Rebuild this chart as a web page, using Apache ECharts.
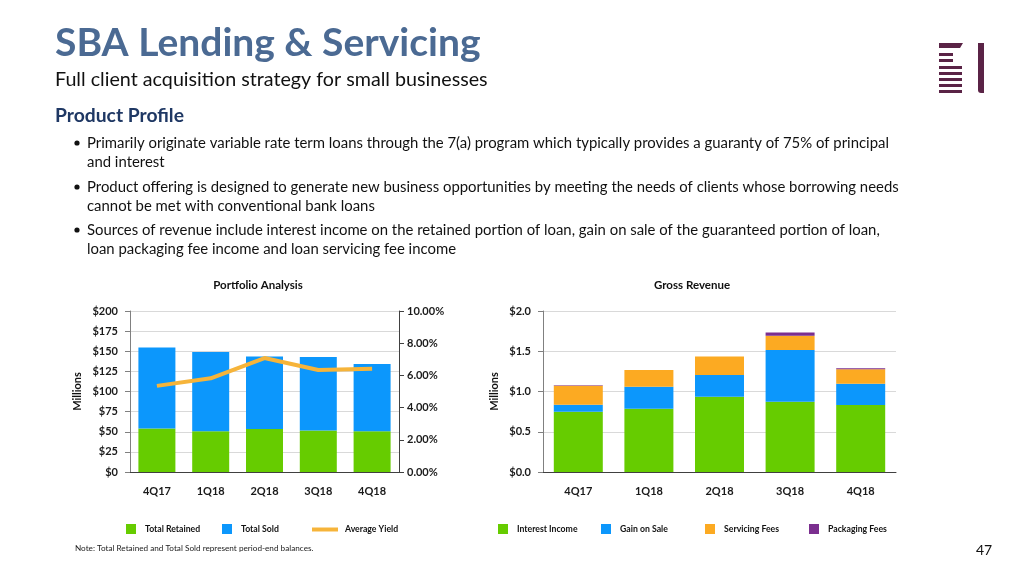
<!DOCTYPE html>
<html>
<head>
<meta charset="utf-8">
<script src="https://cdn.jsdelivr.net/npm/echarts@6/dist/echarts.min.js"></script>
<style>
html,body{margin:0;padding:0;background:#fff;}
#c{width:1024px;height:576px;}
</style>
</head>
<body>
<div id="c"></div>
<script>
// ---- data ----
const categories = ['4Q17','1Q18','2Q18','3Q18','4Q18'];
const totalRetained = [53.9, 50.6, 53.5, 51.4, 50.6];
const totalSold = [100.8, 98.4, 90.1, 91.4, 83.6];
const averageYield = [5.35, 5.82, 7.08, 6.34, 6.42];
const interestIncome = [0.749, 0.786, 0.934, 0.872, 0.831];
const gainOnSale = [0.086, 0.272, 0.272, 0.642, 0.264];
const servicingFees = [0.237, 0.209, 0.230, 0.177, 0.181];
const packagingFees = [0.005, 0, 0, 0.042, 0.012];
const leftTicks = [0, 25, 50, 75, 100, 125, 150, 175, 200];
const yieldTicks = [0, 2, 4, 6, 8, 10];
const revenueTicks = [0, 0.5, 1.0, 1.5, 2.0];

const FONT = 'Lato';
const GREEN = '#66cc00', BLUE = '#0c97fc', ORANGE = '#fcaa22', PURPLE = '#7b2f8f', LINE = '#f6b43a';
const axisLabel = {fontFamily: FONT, fontWeight: 'bold', fontSize: 11, color: '#1a1a1a'};

const chart = echarts.init(document.getElementById('c'), null, {renderer: 'canvas'});

const bullets = [
  ['Primarily originate variable rate term loans through the 7(a) program which typically provides a guaranty of 75% of principal', 'and interest'],
  ['Product offering is designed to generate new business opportunities by meeting the needs of clients whose borrowing needs', 'cannot be met with conventional bank loans'],
  ['Sources of revenue include interest income on the retained portion of loan, gain on sale of the guaranteed portion of loan,', 'loan packaging fee income and loan servicing fee income']
];
const bulletY = [143, 187, 230];
const graphics = [
  {type:'text', x:55, y:43, style:{text:'SBA Lending & Servicing', fontFamily:FONT, fontWeight:'bold', fontSize:39, fill:'#4b6a93', verticalAlign:'middle'}},
  {type:'text', x:55, y:80, style:{text:'Full client acquisition strategy for small businesses', fontFamily:FONT, fontSize:19.7, fill:'#111', verticalAlign:'middle'}},
  {type:'text', x:55, y:116, style:{text:'Product Profile', fontFamily:FONT, fontWeight:'bold', fontSize:19.3, fill:'#1f3864', verticalAlign:'middle'}},
  {type:'text', x:75, y:548, style:{text:'Note: Total Retained and Total Sold represent period-end balances.', fontFamily:FONT, fontSize:8.2, fill:'#222', verticalAlign:'middle'}},
  {type:'text', x:976, y:550, style:{text:'47', fontFamily:FONT, fontSize:14, fill:'#111', verticalAlign:'middle'}},
  {type:'text', x:258, y:285, style:{text:'Portfolio Analysis', fontFamily:FONT, fontWeight:'bold', fontSize:11.5, fill:'#111', align:'center', verticalAlign:'middle'}},
  {type:'text', x:692, y:285, style:{text:'Gross Revenue', fontFamily:FONT, fontWeight:'bold', fontSize:11.5, fill:'#111', align:'center', verticalAlign:'middle'}}
];
bullets.forEach((b, i) => {
  graphics.push({type:'circle', shape:{cx:77, cy:bulletY[i], r:2.6}, style:{fill:'#111'}});
  graphics.push({type:'text', x:87, y:bulletY[i], style:{text:b[0], fontFamily:FONT, fontSize:14.9, fill:'#111', verticalAlign:'middle'}});
  graphics.push({type:'text', x:87, y:bulletY[i]+19.5, style:{text:b[1], fontFamily:FONT, fontSize:14.9, fill:'#111', verticalAlign:'middle'}});
});
// logo
const LOGO = '#5a2346';
graphics.push({type:'polygon', shape:{points:[[939,43],[963,43],[960,48],[939,48]]}, style:{fill:LOGO}});
[[53,953],[59,953],[66,962],[72,962],[78,962],[84,962],[90,962]].forEach(([y, x2]) => {
  graphics.push({type:'rect', shape:{x:939, y:y, width:x2-939, height:3}, style:{fill:LOGO}});
});
graphics.push({type:'rect', shape:{x:978, y:43, width:6, height:50, r:[0,0,0,3]}, style:{fill:LOGO}});

function legendItem(name, left) {
  return {
    data:[{name:name, icon:'rect'}], left:left, top:519, itemWidth:10, itemHeight:10,
    textStyle:{fontFamily:FONT, fontWeight:'bold', fontSize:8.7, color:'#111', padding:[0,0,0,4]},
    selectedMode:false
  };
}

const option = {
  animation:false,
  graphic: graphics,
  legend: [
    legendItem('Total Retained', 121),
    legendItem('Total Sold', 217),
    {data:[{name:'Average Yield'}], left:307, top:520, itemWidth:26, itemHeight:4, icon:'rect',
     textStyle:{fontFamily:FONT, fontWeight:'bold', fontSize:8.7, color:'#111', padding:[0,0,0,2]}, selectedMode:false},
    legendItem('Interest Income', 493),
    legendItem('Gain on Sale', 596),
    legendItem('Servicing Fees', 700),
    legendItem('Packaging Fees', 804)
  ],
  grid: [
    {left:130, right:1024-399, top:311, bottom:576-472, containLabel:false},
    {left:543, right:1024-896, top:311, bottom:576-472, containLabel:false}
  ],
  xAxis: [
    {type:'category', data:categories, gridIndex:0,
     axisLine:{lineStyle:{color:'#404040', width:1}}, axisTick:{alignWithLabel:true, length:5, lineStyle:{color:'#404040'}},
     axisLabel:Object.assign({margin:14}, axisLabel)},
    {type:'category', data:categories, gridIndex:1,
     axisLine:{lineStyle:{color:'#404040', width:1}}, axisTick:{alignWithLabel:true, length:5, lineStyle:{color:'#404040'}},
     axisLabel:Object.assign({margin:14}, axisLabel)}
  ],
  yAxis: [
    {type:'value', gridIndex:0, min:leftTicks[0], max:leftTicks[leftTicks.length-1], interval:25,
     name:'Millions', nameLocation:'middle', nameGap:47, nameTextStyle:{fontFamily:FONT, fontWeight:'bold', fontSize:11, color:'#111'},
     axisLine:{show:true, lineStyle:{color:'#808080'}}, axisTick:{show:true, length:5, lineStyle:{color:'#808080'}},
     splitLine:{lineStyle:{color:'#d9d9d9'}},
     axisLabel:Object.assign({margin:12, formatter:v => '$' + v}, axisLabel)},
    {type:'value', gridIndex:0, position:'right', min:yieldTicks[0], max:yieldTicks[yieldTicks.length-1], interval:2,
     axisLine:{show:true, lineStyle:{color:'#404040'}}, axisTick:{show:true, length:5, lineStyle:{color:'#404040'}},
     splitLine:{show:false},
     axisLabel:Object.assign({margin:8, formatter:v => v.toFixed(2) + '%'}, axisLabel)},
    {type:'value', gridIndex:1, min:revenueTicks[0], max:revenueTicks[revenueTicks.length-1], interval:0.5,
     name:'Millions', nameLocation:'middle', nameGap:43, nameTextStyle:{fontFamily:FONT, fontWeight:'bold', fontSize:11, color:'#111'},
     axisLine:{show:true, lineStyle:{color:'#808080'}}, axisTick:{show:true, length:5, lineStyle:{color:'#808080'}},
     splitLine:{lineStyle:{color:'#d9d9d9'}},
     axisLabel:Object.assign({margin:12, formatter:v => '$' + v.toFixed(1)}, axisLabel)}
  ],
  series: [
    {name:'Total Retained', type:'bar', stack:'p', xAxisIndex:0, yAxisIndex:0, data:totalRetained, barWidth:37, itemStyle:{color:GREEN}},
    {name:'Total Sold', type:'bar', stack:'p', xAxisIndex:0, yAxisIndex:0, data:totalSold, barWidth:37, itemStyle:{color:BLUE}},
    {name:'Average Yield', type:'line', xAxisIndex:0, yAxisIndex:1, data:averageYield, symbol:'none', lineStyle:{color:LINE, width:4}, itemStyle:{color:LINE}},
    {name:'Interest Income', type:'bar', stack:'r', xAxisIndex:1, yAxisIndex:2, data:interestIncome, barWidth:49, itemStyle:{color:GREEN}},
    {name:'Gain on Sale', type:'bar', stack:'r', xAxisIndex:1, yAxisIndex:2, data:gainOnSale, barWidth:49, itemStyle:{color:BLUE}},
    {name:'Servicing Fees', type:'bar', stack:'r', xAxisIndex:1, yAxisIndex:2, data:servicingFees, barWidth:49, itemStyle:{color:ORANGE}},
    {name:'Packaging Fees', type:'bar', stack:'r', xAxisIndex:1, yAxisIndex:2, data:packagingFees, barWidth:49, itemStyle:{color:PURPLE}}
  ]
};
chart.setOption(option);
</script>
</body>
</html>
